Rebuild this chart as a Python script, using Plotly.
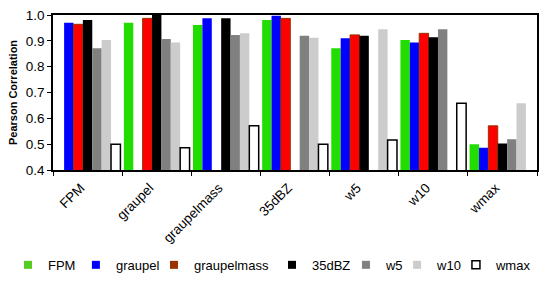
import plotly.graph_objects as go

categories = ["FPM", "graupel", "graupelmass", "35dBZ", "w5", "w10", "wmax"]
series_names = ["FPM", "graupel", "graupelmass", "35dBZ", "w5", "w10", "wmax"]

FPM = [None, 0.970, 0.961, 0.981, 0.871, 0.903, 0.500]
graupel = [0.970, None, 0.987, 0.997, 0.910, 0.894, 0.486]
graupelmass = [0.964, 0.987, None, 0.987, 0.923, 0.929, 0.571]
dBZ35 = [0.981, 1.000, 0.987, None, 0.920, 0.914, 0.503]
w5 = [0.871, 0.907, 0.923, 0.920, None, 0.945, 0.519]
w10 = [0.903, 0.894, 0.929, 0.912, 0.945, None, 0.658]
wmax = [0.500, 0.486, 0.571, 0.500, 0.516, 0.658, None]

values = [FPM, graupel, graupelmass, dBZ35, w5, w10, wmax]
fills = ["#22DD00", "#0000FF", "#FF0000", "#000000", "#808080", "#CCCCCC", "#FFFFFF"]
lines = ["#22DD00", "#0000FF", "#993300", "#000000", "#808080", "#CCCCCC", "#000000"]
line_w = [0, 0, 1, 0, 0, 0, 1.5]
legend_colors = ["#55CC22", "#0000FF", "#993300", "#000000", "#808080", "#CCCCCC", "#FFFFFF"]
# left edge (container fraction) of each legend entry
legend_x = [0.0145, 0.138, 0.280, 0.4945, 0.629, 0.722, 0.829]

FONT = "Liberation Sans, Arial, sans-serif"

fig = go.Figure()
for name, vals, fc, lc, lw in zip(series_names, values, fills, lines, line_w):
    fig.add_trace(go.Bar(
        x=categories, y=vals, name=name, showlegend=False,
        marker=dict(color=fc, line=dict(color=lc, width=lw)),
    ))

legend_layout = {}
for i, (name, c, lx) in enumerate(zip(series_names, legend_colors, legend_x)):
    key = "legend" if i == 0 else f"legend{i+1}"
    fig.add_trace(go.Scatter(
        x=[None], y=[None], mode="markers", name=name, legend=key,
        marker=dict(symbol="square", size=8, color=c,
                    line=dict(color="#000000" if name == "wmax" else c,
                              width=1.5 if name == "wmax" else 0)),
    ))
    legend_layout[key] = dict(
        xref="container", yref="container", x=lx, xanchor="left",
        y=0.064, yanchor="middle", orientation="h",
        font=dict(size=13), bgcolor="rgba(0,0,0,0)", itemwidth=30,
    )

fig.update_layout(
    width=550, height=283,
    margin=dict(l=53, r=13, t=15, b=113, autoexpand=False),
    paper_bgcolor="white", plot_bgcolor="white",
    barmode="group", bargap=0.05, bargroupgap=0,
    font=dict(family=FONT, size=13, color="black"),
    xaxis=dict(type="category", tickson="boundaries", ticks="outside", ticklen=4,
               tickcolor="black", showline=True, linecolor="black", linewidth=1.5,
               mirror=True, tickangle=-45, showgrid=False, tickfont=dict(size=13.5),
               automargin=False, ticklabelstandoff=3, ticklabelshift=-7),
    yaxis=dict(range=[0.4, 1.0], dtick=0.1, tickformat=".1f", ticks="outside", ticklen=4,
               tickcolor="black", showline=True, linecolor="black", linewidth=1.5,
               mirror=True, showgrid=False, zeroline=False, tickfont=dict(size=13.5),
               automargin=False,
               title=dict(text="<b>Pearson Correlation</b>", font=dict(size=11), standoff=6)),
    **legend_layout,
)

fig.write_html("out.html", config={"displayModeBar": False},
               post_script="document.body.style.margin='0';")
